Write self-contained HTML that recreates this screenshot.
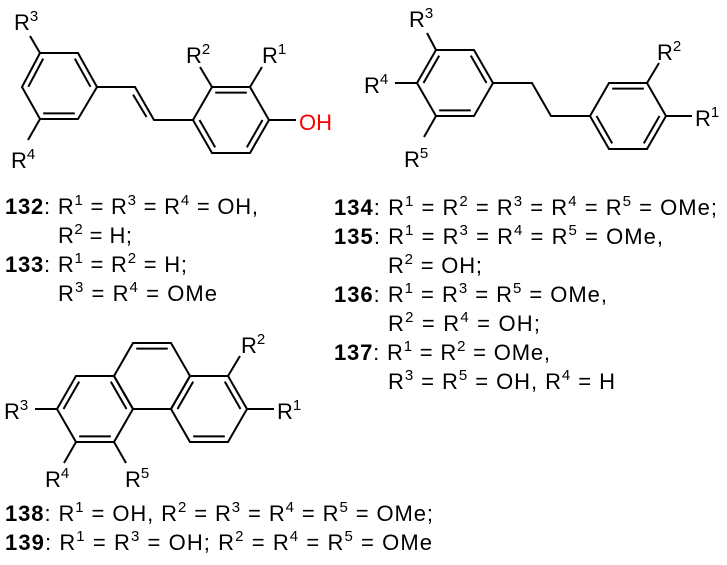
<!DOCTYPE html>
<html><head><meta charset="utf-8"><style>
html,body{margin:0;padding:0;background:#fff;}
svg{display:block;}
text{font-family:"Liberation Sans",Arial,sans-serif;font-size:22px;fill:#000;}
.b{font-weight:bold;}
.s{font-size:15px;}
line,polyline,polygon{stroke:#000;stroke-width:2;fill:none;stroke-linejoin:miter;}
</style></head><body>
<svg width="727" height="565" viewBox="0 0 727 565" xmlns="http://www.w3.org/2000/svg">
<!-- Stilbene -->
<polygon points="22,87 40,53 78,53 97,87 78,119 40,119"/>
<line x1="28.3" y1="86.8" x2="43.2" y2="58.6"/>
<line x1="74.8" y1="58.6" x2="90.5" y2="86.8"/>
<line x1="43.2" y1="113.4" x2="74.8" y2="113.4"/>
<polyline points="97,87 135,87 154,120 193,120"/>
<line x1="133.1" y1="94.6" x2="146.5" y2="117"/>
<polygon points="193,120 212,87 250,87 269,120 250,153 212,153"/>
<line x1="215.2" y1="92.6" x2="246.8" y2="92.6"/>
<line x1="199.5" y1="120" x2="215.2" y2="147.4"/>
<line x1="262.5" y1="120" x2="246.8" y2="147.4"/>
<line x1="40" y1="53" x2="30" y2="36"/>
<line x1="40" y1="119" x2="28" y2="140"/>
<line x1="212" y1="87" x2="200" y2="67"/>
<line x1="250" y1="87" x2="262" y2="67"/>
<line x1="269" y1="120" x2="296" y2="120"/>
<text x="14" y="30">R<tspan class="s" dy="-9">3</tspan></text>
<text x="11" y="168">R<tspan class="s" dy="-9">4</tspan></text>
<text x="186" y="63">R<tspan class="s" dy="-9">2</tspan></text>
<text x="262" y="63">R<tspan class="s" dy="-9">1</tspan></text>
<text x="299" y="130" style="fill:#f00">OH</text>

<!-- Bibenzyl -->
<polygon points="417,83 436,50 474,50 493,83 474,116 436,116"/>
<line x1="439.2" y1="55.6" x2="423.5" y2="83"/>
<line x1="470.8" y1="55.6" x2="486.5" y2="83"/>
<line x1="439.2" y1="110.4" x2="470.8" y2="110.4"/>
<polyline points="493,83 532,83 551,116 590,116"/>
<polygon points="590,116 609,83 647,83 666,116 647,149 609,149"/>
<line x1="612.2" y1="88.6" x2="643.8" y2="88.6"/>
<line x1="659.5" y1="116" x2="643.8" y2="143.4"/>
<line x1="596.5" y1="116" x2="612.2" y2="143.4"/>
<line x1="647" y1="83" x2="659" y2="63"/>
<line x1="666" y1="116" x2="692" y2="116"/>
<line x1="436" y1="50" x2="427" y2="33"/>
<line x1="417" y1="83" x2="395" y2="83"/>
<line x1="436" y1="116" x2="424" y2="137"/>
<text x="409" y="27">R<tspan class="s" dy="-9">3</tspan></text>
<text x="364" y="93">R<tspan class="s" dy="-9">4</tspan></text>
<text x="404" y="167">R<tspan class="s" dy="-9">5</tspan></text>
<text x="657" y="60">R<tspan class="s" dy="-9">2</tspan></text>
<text x="695" y="126">R<tspan class="s" dy="-9">1</tspan></text>

<!-- Phenanthrene -->
<polygon points="114,376 133,343 171,343 190,376 171,409 133,409"/>
<line x1="136.2" y1="348.6" x2="167.8" y2="348.6"/>
<polygon points="57,409 76,376 114,376 133,409 114,442 76,442"/>
<line x1="63.5" y1="409" x2="79.2" y2="381.6"/>
<line x1="110.8" y1="381.6" x2="126.5" y2="409"/>
<line x1="79.2" y1="436.4" x2="110.8" y2="436.4"/>
<polygon points="171,409 190,376 228,376 247,409 228,442 190,442"/>
<line x1="177.5" y1="409" x2="193.2" y2="381.6"/>
<line x1="224.8" y1="381.6" x2="240.5" y2="409"/>
<line x1="193.2" y1="436.4" x2="224.8" y2="436.4"/>
<line x1="228" y1="376" x2="240" y2="356"/>
<line x1="247" y1="409" x2="274" y2="409"/>
<line x1="57" y1="409" x2="35" y2="409"/>
<line x1="76" y1="442" x2="64" y2="463"/>
<line x1="114" y1="442" x2="126" y2="463"/>
<text x="241" y="353">R<tspan class="s" dy="-9">2</tspan></text>
<text x="277" y="419">R<tspan class="s" dy="-9">1</tspan></text>
<text x="4" y="419">R<tspan class="s" dy="-9">3</tspan></text>
<text x="45" y="487">R<tspan class="s" dy="-9">4</tspan></text>
<text x="125" y="487">R<tspan class="s" dy="-9">5</tspan></text>

<!-- Left text -->
<text x="5" y="214" textLength="253" lengthAdjust="spacing"><tspan class="b">132</tspan>: R<tspan class="s" dy="-9">1</tspan><tspan dy="9"> = R</tspan><tspan class="s" dy="-9">3</tspan><tspan dy="9"> = R</tspan><tspan class="s" dy="-9">4</tspan><tspan dy="9"> = OH,</tspan></text>
<text x="58" y="243" textLength="74" lengthAdjust="spacing">R<tspan class="s" dy="-9">2</tspan><tspan dy="9"> = H;</tspan></text>
<text x="5" y="272" textLength="182" lengthAdjust="spacing"><tspan class="b">133</tspan>: R<tspan class="s" dy="-9">1</tspan><tspan dy="9"> = R</tspan><tspan class="s" dy="-9">2</tspan><tspan dy="9"> = H;</tspan></text>
<text x="58" y="301" textLength="159" lengthAdjust="spacing">R<tspan class="s" dy="-9">3</tspan><tspan dy="9"> = R</tspan><tspan class="s" dy="-9">4</tspan><tspan dy="9"> = OMe</tspan></text>

<!-- Right text -->
<text x="334" y="215" textLength="383" lengthAdjust="spacing"><tspan class="b">134</tspan>: R<tspan class="s" dy="-9">1</tspan><tspan dy="9"> = R</tspan><tspan class="s" dy="-9">2</tspan><tspan dy="9"> = R</tspan><tspan class="s" dy="-9">3</tspan><tspan dy="9"> = R</tspan><tspan class="s" dy="-9">4</tspan><tspan dy="9"> = R</tspan><tspan class="s" dy="-9">5</tspan><tspan dy="9"> = OMe;</tspan></text>
<text x="334" y="244" textLength="329" lengthAdjust="spacing"><tspan class="b">135</tspan>: R<tspan class="s" dy="-9">1</tspan><tspan dy="9"> = R</tspan><tspan class="s" dy="-9">3</tspan><tspan dy="9"> = R</tspan><tspan class="s" dy="-9">4</tspan><tspan dy="9"> = R</tspan><tspan class="s" dy="-9">5</tspan><tspan dy="9"> = OMe,</tspan></text>
<text x="388" y="273" textLength="94" lengthAdjust="spacing">R<tspan class="s" dy="-9">2</tspan><tspan dy="9"> = OH;</tspan></text>
<text x="334" y="302" textLength="273" lengthAdjust="spacing"><tspan class="b">136</tspan>: R<tspan class="s" dy="-9">1</tspan><tspan dy="9"> = R</tspan><tspan class="s" dy="-9">3</tspan><tspan dy="9"> = R</tspan><tspan class="s" dy="-9">5</tspan><tspan dy="9"> = OMe,</tspan></text>
<text x="388" y="331" textLength="152" lengthAdjust="spacing">R<tspan class="s" dy="-9">2</tspan><tspan dy="9"> = R</tspan><tspan class="s" dy="-9">4</tspan><tspan dy="9"> = OH;</tspan></text>
<text x="334" y="360" textLength="216" lengthAdjust="spacing"><tspan class="b">137</tspan>: R<tspan class="s" dy="-9">1</tspan><tspan dy="9"> = R</tspan><tspan class="s" dy="-9">2</tspan><tspan dy="9"> = OMe,</tspan></text>
<text x="388" y="389" textLength="227" lengthAdjust="spacing">R<tspan class="s" dy="-9">3</tspan><tspan dy="9"> = R</tspan><tspan class="s" dy="-9">5</tspan><tspan dy="9"> = OH, R</tspan><tspan class="s" dy="-9">4</tspan><tspan dy="9"> = H</tspan></text>

<!-- Bottom text -->
<text x="5" y="521" textLength="428" lengthAdjust="spacing"><tspan class="b">138</tspan>: R<tspan class="s" dy="-9">1</tspan><tspan dy="9"> = OH, R</tspan><tspan class="s" dy="-9">2</tspan><tspan dy="9"> = R</tspan><tspan class="s" dy="-9">3</tspan><tspan dy="9"> = R</tspan><tspan class="s" dy="-9">4</tspan><tspan dy="9"> = R</tspan><tspan class="s" dy="-9">5</tspan><tspan dy="9"> = OMe;</tspan></text>
<text x="5" y="550" textLength="427" lengthAdjust="spacing"><tspan class="b">139</tspan>: R<tspan class="s" dy="-9">1</tspan><tspan dy="9"> = R</tspan><tspan class="s" dy="-9">3</tspan><tspan dy="9"> = OH; R</tspan><tspan class="s" dy="-9">2</tspan><tspan dy="9"> = R</tspan><tspan class="s" dy="-9">4</tspan><tspan dy="9"> = R</tspan><tspan class="s" dy="-9">5</tspan><tspan dy="9"> = OMe</tspan></text>
</svg>
</body></html>
